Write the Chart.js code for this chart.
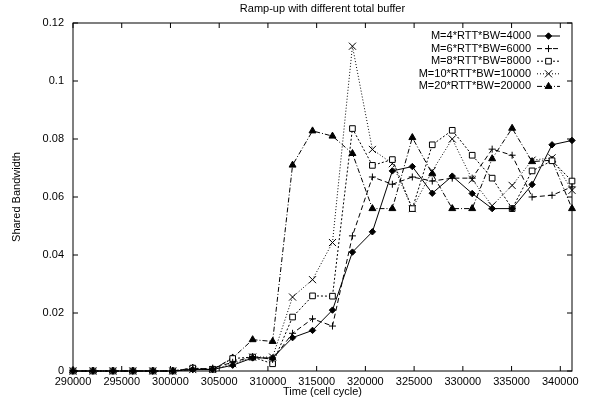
<!DOCTYPE html>
<html>
<head>
<meta charset="utf-8">
<script src="https://cdn.jsdelivr.net/npm/chart.js@4.4.0/dist/chart.umd.min.js"></script>
<style>
  html, body { margin: 0; padding: 0; background: #fff; }
</style>
</head>
<body>
<canvas id="c" width="595" height="399"></canvas>
<script>
// sample times (cell cycles), one every 2048 cycles
const times = [290000, 292048, 294096, 296144, 298192, 300240, 302288, 304336, 306384, 308432,
  310480, 312528, 314576, 316624, 318672, 320720, 322768, 324816, 326864, 328912,
  330960, 333008, 335056, 337104, 339152, 341200];

const xTicks = [290000, 295000, 300000, 305000, 310000, 315000, 320000, 325000, 330000, 335000, 340000];

const seriesLabels = ['M=4*RTT*BW=4000', 'M=6*RTT*BW=6000', 'M=8*RTT*BW=8000',
  'M=10*RTT*BW=10000', 'M=20*RTT*BW=20000'];

const m4 = [0, 0, 0, 0, 0, 0, 0.0005, 0.0005, 0.002, 0.0045, 0.0045, 0.0115, 0.014, 0.021, 0.041,
  0.048, 0.069, 0.0705, 0.0613, 0.0672, 0.0612, 0.056, 0.056, 0.0643, 0.078, 0.0795];
const m6 = [0, 0, 0, 0, 0, 0, 0.0005, 0.001, 0.003, 0.005, 0.004, 0.013, 0.018, 0.0155, 0.0466,
  0.0669, 0.0644, 0.0669, 0.0655, 0.0665, 0.0665, 0.0765, 0.0744, 0.060, 0.0606, 0.0635];
const m8 = [0, 0, 0, 0, 0, 0, 0.001, 0.0006, 0.0043, 0.0048, 0.0025, 0.0186, 0.0259, 0.0258, 0.0836,
  0.0709, 0.0729, 0.056, 0.078, 0.083, 0.0744, 0.0665, 0.056, 0.069, 0.0725, 0.0655];
const m10 = [0, 0, 0, 0, 0, 0, 0.0005, 0.0005, 0.0025, 0.0048, 0.0048, 0.0255, 0.0315, 0.0443, 0.112,
  0.0764, 0.0715, 0.056, 0.069, 0.080, 0.066, 0.057, 0.064, 0.0727, 0.0735, 0.0623];
const m20 = [0, 0, 0, 0, 0, 0, 0.001, 0.0005, 0.0045, 0.0108, 0.0102, 0.071, 0.0828, 0.081, 0.075,
  0.056, 0.056, 0.0805, 0.068, 0.056, 0.056, 0.0732, 0.0837, 0.0722, 0.0727, 0.056];

const FONT = { family: '"Liberation Sans", Arial, sans-serif', size: 11, weight: 'normal' };
const INK = '#000';

const styles = [
  { dash: [], point: 'rectRot', r: 3.2, fill: INK },
  { dash: [5, 3], point: 'cross', r: 3.5, fill: INK },
  { dash: [2, 2], point: 'rect', r: 4, fill: '#fff' },
  { dash: [1, 2], point: 'crossRot', r: 5, fill: INK },
  { dash: [5, 2, 1, 2], point: 'triangle', r: 4, fill: INK }
];

const datasets = [m4, m6, m8, m10, m20].map((vals, k) => ({
  label: seriesLabels[k],
  data: times.map((t, i) => ({ x: t, y: vals[i] })),
  borderColor: INK,
  borderWidth: 1,
  borderDash: styles[k].dash,
  pointStyle: styles[k].point,
  pointRadius: styles[k].r,
  pointBorderWidth: 1,
  pointBorderColor: INK,
  pointBackgroundColor: styles[k].fill,
  tension: 0,
  clip: false
}));

// gnuplot-like frame with inward ticks
const frame = {
  id: 'frame',
  beforeDatasetsDraw(chart) {
    const { ctx, chartArea: a, scales: { x, y } } = chart;
    ctx.save();
    ctx.strokeStyle = INK;
    ctx.lineWidth = 1;
    ctx.strokeRect(a.left, a.top, a.right - a.left, a.bottom - a.top);
    ctx.beginPath();
    x.ticks.forEach(t => {
      const px = x.getPixelForValue(t.value);
      ctx.moveTo(px, a.bottom); ctx.lineTo(px, a.bottom - 5);
      ctx.moveTo(px, a.top); ctx.lineTo(px, a.top + 5);
    });
    y.ticks.forEach(t => {
      const py = y.getPixelForValue(t.value);
      ctx.moveTo(a.left, py); ctx.lineTo(a.left + 5, py);
      ctx.moveTo(a.right, py); ctx.lineTo(a.right - 5, py);
    });
    ctx.stroke();
    ctx.restore();
  }
};

// legend inside the plot, text right-aligned, sample to the right
const keyBox = {
  id: 'keyBox',
  afterDatasetsDraw(chart) {
    const { ctx } = chart;
    ctx.save();
    ctx.font = FONT.size + 'px ' + FONT.family;
    ctx.textAlign = 'right';
    ctx.textBaseline = 'middle';
    chart.data.datasets.forEach((ds, k) => {
      const yy = 36 + k * 12.6;
      ctx.fillStyle = INK;
      ctx.fillText(ds.label, 531, yy);
      ctx.strokeStyle = INK;
      ctx.lineWidth = 1;
      ctx.setLineDash(ds.borderDash);
      ctx.beginPath();
      ctx.moveTo(537, yy); ctx.lineTo(560, yy);
      ctx.stroke();
      ctx.setLineDash([]);
      ctx.fillStyle = ds.pointBackgroundColor;
      Chart.helpers.drawPoint(ctx, { pointStyle: ds.pointStyle, radius: ds.pointRadius, rotation: 0, borderWidth: 1 }, 548.5, yy);
    });
    ctx.restore();
  }
};

new Chart(document.getElementById('c'), {
  type: 'line',
  data: { datasets },
  plugins: [frame, keyBox],
  options: {
    responsive: false,
    animation: false,
    devicePixelRatio: 1,
    layout: { padding: { left: 0, right: 23, top: 0, bottom: 0 } },
    plugins: {
      legend: { display: false },
      tooltip: { enabled: false },
      title: {
        display: true,
        text: 'Ramp-up with different total buffer',
        color: INK,
        font: FONT,
        fullSize: false,
        padding: { top: 2, bottom: 7.8 }
      }
    },
    scales: {
      x: {
        type: 'linear',
        min: 290000,
        max: 341200,
        grid: { display: false, drawTicks: false },
        border: { display: false },
        afterBuildTicks: s => { s.ticks = xTicks.map(v => ({ value: v })); },
        ticks: {
          autoSkip: false,
          maxRotation: 0,
          padding: 4,
          color: INK,
          font: FONT,
          callback: v => String(v)
        },
        title: { display: true, text: 'Time (cell cycle)', color: INK, font: FONT, padding: 0 },
        afterFit: s => { s.height = 28; }
      },
      y: {
        min: 0,
        max: 0.12,
        grid: { display: false, drawTicks: false },
        border: { display: false },
        ticks: {
          stepSize: 0.02,
          padding: 9,
          color: INK,
          font: FONT,
          callback: v => String(Math.round(v * 100) / 100)
        },
        title: { display: true, text: 'Shared Bandwidth', color: INK, font: FONT, padding: { top: 10, bottom: 0 } },
        afterFit: s => { s.width = 73; }
      }
    }
  }
});
</script>
</body>
</html>
